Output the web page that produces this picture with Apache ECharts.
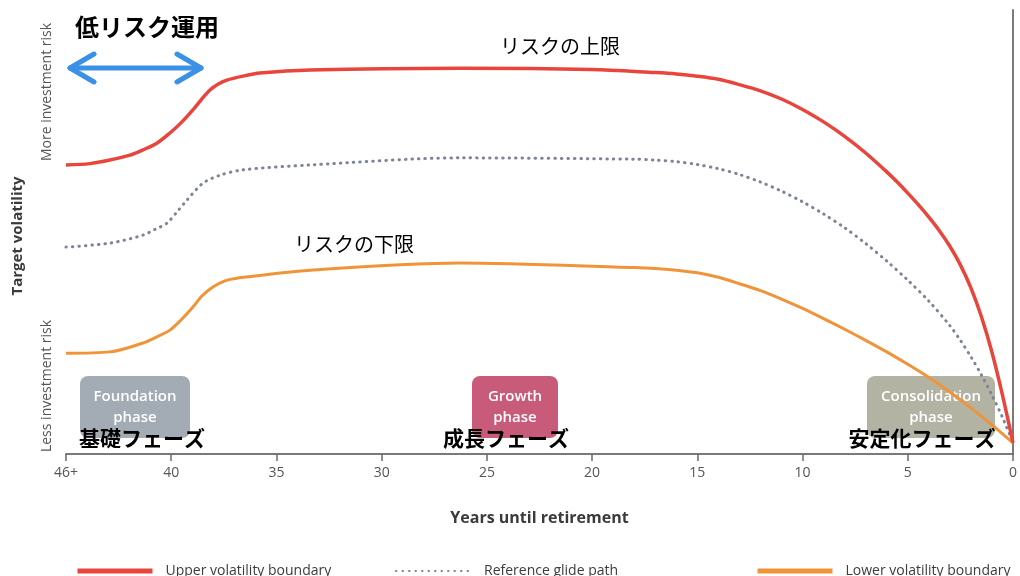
<!DOCTYPE html>
<html>
<head>
<meta charset="utf-8">
<title>Target volatility glide path</title>
<script src="https://cdn.jsdelivr.net/npm/echarts@6/dist/echarts.min.js"></script>
<style>
  html, body { margin: 0; padding: 0; background: #ffffff; }
  #chart { width: 1020px; height: 576px; }
</style>
</head>
<body>
<div id="chart"></div>
<script>
// Years until retirement (the left end is the "46+" bucket, drawn at 45)
const xTicks = [0, 5, 10, 15, 20, 25, 30, 35, 40, 45];
const xTickLabels = ['0', '5', '10', '15', '20', '25', '30', '35', '40', '46+'];

// Upper volatility boundary
const upperYears = [45, 43.86, 42.91, 41.96, 41.34, 40.68, 40.06, 39.49, 38.97, 38.54, 38.16, 37.78, 37.36, 36.6, 35.79, 33.41, 26.28, 20, 17, 16, 15, 14, 13, 12, 11, 10, 9, 8, 7, 6, 5.5, 5, 4.5, 4, 3.5, 3, 2.5, 2, 1.5, 1, 0.5, 0];
const upperVol   = [65.1, 65.4, 66.2, 67.3, 68.5, 70.0, 72.3, 74.8, 77.5, 80.0, 82.0, 83.3, 84.2, 85.1, 85.8, 86.5, 86.9, 86.6, 85.9, 85.6, 85.1, 84.4, 83.2, 81.8, 79.95, 77.6, 74.8, 71.55, 67.8, 63.55, 61.25, 58.75, 56.15, 53.35, 50.3, 46.8, 42.6, 37.4, 30.9, 22.9, 13.25, 2.5];

// Reference glide path
const refYears = [45, 42.91, 41.34, 40.77, 40.2, 39.73, 39.25, 38.49, 37.68, 36.59, 33.41, 26.28, 18, 17, 16, 15, 14, 13, 12, 11, 10, 9, 8, 7, 6, 5, 4, 3, 2.5, 2, 1.5, 1, 0.5, 0];
const refVol   = [46.6, 47.5, 49.3, 50.6, 52.0, 54.5, 57.2, 61.0, 62.8, 64.0, 65.1, 66.7, 66.4, 66.2, 65.85, 65.2, 64.25, 62.95, 61.25, 59.2, 56.8, 54.05, 50.95, 47.4, 43.45, 39.15, 34.45, 28.9, 25.6, 21.9, 17.8, 13.25, 8.25, 2.5];

// Lower volatility boundary
const lowerYears = [45, 42.9, 41.34, 40.68, 40.06, 39.49, 38.97, 38.54, 38.02, 37.45, 36.88, 33.41, 26.28, 18, 17, 16, 15, 14, 13, 12, 11, 10, 9, 8, 7, 6, 5, 4, 3, 2, 1, 0];
const lowerVol   = [22.7, 23.0, 25.0, 26.4, 27.9, 30.4, 33.1, 35.6, 37.6, 39.0, 39.6, 41.4, 43.0, 42.0, 41.8, 41.4, 40.8, 39.8, 38.35, 36.8, 34.9, 32.8, 30.5, 28.1, 25.6, 23.0, 20.2, 17.25, 13.98, 10.4, 6.55, 2.5];

const seriesNames = ['Upper volatility boundary', 'Reference glide path', 'Lower volatility boundary'];

const pairs = (xs, ys) => xs.map((x, i) => [x, ys[i]]);

const EN = '"Open Sans", "Noto Sans", sans-serif';
const JP = '"Noto Sans CJK JP", sans-serif';

const chart = echarts.init(document.getElementById('chart'), null, { renderer: 'canvas' });

const legendText = { color: '#3c3c3c', fontFamily: EN, fontSize: 14, padding: [0, 0, 0, 8] };
const legendCommon = { top: 559, itemWidth: 75, itemHeight: 14, textStyle: legendText, itemStyle: { opacity: 0 } };

// Rounded phase badge with a two-line caption
function phaseBox(x, w, color, caption) {
  return {
    type: 'group',
    children: [
      { type: 'rect', shape: { x: x, y: 376, width: w, height: 62, r: 8 }, style: { fill: color } },
      { type: 'text', x: x + w / 2, y: 407,
        style: { text: caption, fill: '#ffffff', font: '600 15px ' + EN, align: 'center', verticalAlign: 'middle', lineHeight: 21 } }
    ]
  };
}

function jpText(text, x, y, size, weight, z) {
  return { type: 'text', x: x, y: y, z: z || 10,
    style: { text: text, fill: '#000', font: weight + ' ' + size + 'px ' + JP, align: 'center', verticalAlign: 'middle' } };
}

function vText(text, x, y, font, color) {
  return { type: 'text', x: x, y: y, rotation: Math.PI / 2,
    style: { text: text, fill: color, font: font, align: 'center', verticalAlign: 'middle' } };
}

const arrowColor = '#3a91e6';
const arrowStroke = { stroke: arrowColor, lineWidth: 5, lineCap: 'round', lineJoin: 'round', fill: null };

chart.setOption({
  animation: false,
  grid: { left: 66, right: 7, top: 10, bottom: 122, containLabel: false },
  xAxis: {
    type: 'value',
    inverse: true,
    min: 0, max: 45, interval: 5,
    name: 'Years until retirement',
    nameLocation: 'middle',
    nameGap: 56,
    nameTextStyle: { color: '#3a3a3a', fontFamily: EN, fontSize: 16, fontWeight: 'bold' },
    axisLine: { show: true, lineStyle: { color: '#7a7a7a', width: 2 } },
    axisTick: { show: true, length: 7, lineStyle: { color: '#6a6a6a', width: 1.5 } },
    axisLabel: {
      color: '#555', fontFamily: EN, fontSize: 14, margin: 12,
      formatter: v => { const i = xTicks.indexOf(v); return i >= 0 ? xTickLabels[i] : ''; }
    },
    splitLine: { show: false }
  },
  yAxis: {
    type: 'value',
    min: 0, max: 100,
    axisLine: { show: true, lineStyle: { color: '#7a7a7a', width: 2 } },
    axisTick: { show: false },
    axisLabel: { show: false },
    splitLine: { show: false }
  },
  legend: [
    Object.assign({ data: [seriesNames[0]], left: 70, lineStyle: { width: 5 } }, legendCommon),
    Object.assign({ data: [seriesNames[1]], left: 390 }, legendCommon),
    Object.assign({ data: [seriesNames[2]], left: 750, lineStyle: { width: 5 } }, legendCommon)
  ],
  series: [
    {
      name: seriesNames[0], type: 'line', data: pairs(upperYears, upperVol),
      smooth: 0.3, symbol: 'none',
      lineStyle: { color: '#e8453c', width: 3.5 }, itemStyle: { color: '#e8453c' }, z: 5
    },
    {
      name: seriesNames[1], type: 'line', data: pairs(refYears, refVol),
      smooth: 0.3, symbol: 'none',
      lineStyle: { color: '#7c8496', width: 3, type: [0.5, 6], cap: 'round' }, itemStyle: { color: '#7c8496' }, z: 4
    },
    {
      name: seriesNames[2], type: 'line', data: pairs(lowerYears, lowerVol),
      smooth: 0.3, symbol: 'none',
      lineStyle: { color: '#f0943a', width: 3 }, itemStyle: { color: '#f0943a' }, z: 4
    }
  ],
  graphic: [
    // axis titles
    vText('Target volatility', 18, 236, 'bold 15px ' + EN, '#3a3a3a'),
    vText('More investment risk', 47, 92, '14px ' + EN, '#555'),
    vText('Less investment risk', 47, 386, '14px ' + EN, '#555'),

    // low-risk span marker
    jpText('低リスク運用', 147, 27, 24, 'bold'),
    { type: 'group', children: [
      { type: 'polyline', shape: { points: [[70, 68], [201, 68]] }, style: arrowStroke },
      { type: 'polyline', shape: { points: [[94, 54], [70, 68], [94, 82]] }, style: arrowStroke },
      { type: 'polyline', shape: { points: [[177, 54], [201, 68], [177, 82]] }, style: arrowStroke }
    ] },

    // curve captions
    jpText('リスクの上限', 560, 46, 20, 'normal'),
    jpText('リスクの下限', 354, 244, 20, 'normal'),

    // phase badges
    phaseBox(80, 110, '#a3acb5', 'Foundation\nphase'),
    phaseBox(472, 86, '#c85a7a', 'Growth\nphase'),
    phaseBox(867, 128, '#b3b3a4', 'Consolidation\nphase'),

    jpText('基礎フェーズ', 142, 438, 21, 'bold'),
    jpText('成長フェーズ', 506, 438, 21, 'bold'),
    jpText('安定化フェーズ', 922, 438, 21, 'bold')
  ]
});
</script>
</body>
</html>
